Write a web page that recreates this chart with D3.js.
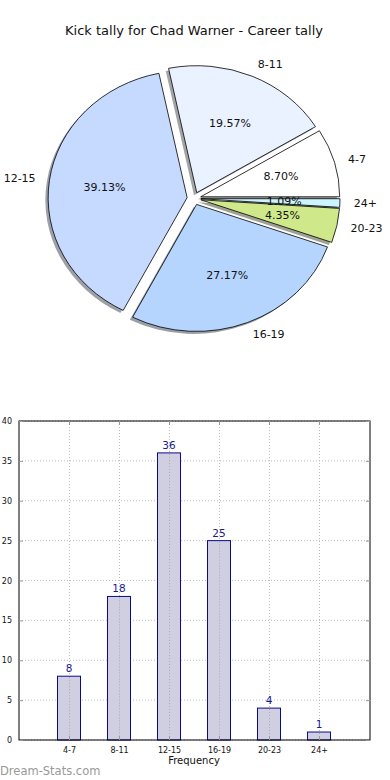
<!DOCTYPE html>
<html><head><meta charset="utf-8">
<script src="https://cdn.jsdelivr.net/npm/d3@7"></script>
<style>body{margin:0;background:#fff}svg{display:block}text{font-family:"DejaVu Sans",sans-serif}</style>
</head><body>
<script>
const title = "Kick tally for Chad Warner - Career tally";
const categories = ["4-7","8-11","12-15","16-19","20-23","24+"];
const counts = [8,18,36,25,4,1];
const sliceColors = ["#ffffff","#eaf2ff","#c6d9ff","#b5d5ff","#cfe98a","#ccf4ff"];
const yTicks = [0,5,10,15,20,25,30,35,40];
const xLabel = "Frequency";
const watermark = "Dream-Stats.com";

const W=390,H=780;
const svg=d3.select("body").append("svg").attr("width",W).attr("height",H);

svg.append("text").attr("x",194).attr("y",35).attr("text-anchor","middle")
  .attr("font-size",13).attr("fill","#111").text(title);

// ---- Pie ----
const cx=194, cy=198.5, rx=139, ry=127, ex=0.05;
const total=d3.sum(counts);
const pie=d3.pie().sort(null).startAngle(Math.PI/2).endAngle(Math.PI/2-2*Math.PI);
const arcs=pie(counts);
const arcGen=d3.arc().innerRadius(0).outerRadius(1);
const pg=svg.append("g");
function darken(c){const r=d3.rgb(c);return d3.rgb(r.r*0.3,r.g*0.3,r.b*0.3).toString();}
arcs.forEach((a,i)=>{
  const m=(a.startAngle+a.endAngle)/2;
  const dx=ex*rx*Math.sin(m), dy=-ex*ry*Math.cos(m);
  pg.append("path").attr("d",arcGen(a))
    .attr("transform",`translate(${cx+dx-0.02*rx},${cy+dy+0.02*ry}) scale(${rx},${ry})`)
    .attr("fill",darken(sliceColors[i])).attr("fill-opacity",0.5).attr("stroke","none");
});
arcs.forEach((a,i)=>{
  const m=(a.startAngle+a.endAngle)/2;
  const dx=ex*rx*Math.sin(m), dy=-ex*ry*Math.cos(m);
  pg.append("path").attr("d",arcGen(a))
    .attr("transform",`translate(${cx+dx},${cy+dy}) scale(${rx},${ry})`)
    .attr("fill",sliceColors[i]).attr("stroke","#000").attr("stroke-width",0.8)
    .attr("vector-effect","non-scaling-stroke").attr("stroke-linejoin","round");
});
arcs.forEach((a,i)=>{
  const m=(a.startAngle+a.endAngle)/2;
  const s=Math.sin(m), c=Math.cos(m);
  const lx=cx+rx*(ex+1.1)*s, ly=cy-ry*(ex+1.1)*c;
  pg.append("text").attr("x",lx).attr("y",ly).attr("dy","0.35em")
    .attr("text-anchor",s>=0?"start":"end").attr("font-size",11).attr("fill","#111")
    .text(categories[i]);
  const px=cx+rx*(ex+0.6)*s, py=cy-ry*(ex+0.6)*c;
  pg.append("text").attr("x",px).attr("y",py).attr("dy","0.35em")
    .attr("text-anchor","middle").attr("font-size",11).attr("fill","#111")
    .text((counts[i]/total*100).toFixed(2)+"%");
});

// ---- Bar chart ----
const L=19,R=370,T=421,B=740;
const x=d3.scaleLinear().domain([-1,6.02]).range([L,R]);
const y=d3.scaleLinear().domain([0,40]).range([B,T]);
const bg=svg.append("g");
bg.selectAll(".gy").data(yTicks).join("line")
  .attr("x1",L).attr("x2",R).attr("y1",d=>y(d)).attr("y2",d=>y(d))
  .attr("stroke","#bbb").attr("stroke-width",1).attr("stroke-dasharray","1,2");
bg.selectAll(".gx").data(categories).join("line")
  .attr("x1",(d,i)=>Math.round(x(i))+0.5).attr("x2",(d,i)=>Math.round(x(i))+0.5).attr("y1",T).attr("y2",B)
  .attr("stroke","#bbb").attr("stroke-width",1).attr("stroke-dasharray","1,2");
const bw=23;
bg.selectAll(".bar").data(counts).join("rect")
  .attr("x",(d,i)=>x(i)-bw/2).attr("width",bw)
  .attr("y",d=>y(d)).attr("height",d=>B-y(d))
  .attr("fill","#ccccdf").attr("fill-opacity",0.95).attr("stroke","#0a0a8a").attr("stroke-width",1);
bg.selectAll(".gx2").data(categories).join("line")
  .attr("x1",(d,i)=>Math.round(x(i))+0.5).attr("x2",(d,i)=>Math.round(x(i))+0.5)
  .attr("y1",(d,i)=>y(counts[i])+1).attr("y2",B)
  .attr("stroke","#aaa").attr("stroke-width",1).attr("stroke-dasharray","1,2");
bg.selectAll(".vl").data(counts).join("text")
  .attr("x",(d,i)=>x(i)).attr("y",d=>y(d)-4).attr("text-anchor","middle")
  .attr("font-size",10.5).attr("fill","#1a1a8c").text(d=>d);
bg.append("rect").attr("x",L).attr("y",T).attr("width",R-L).attr("height",B-T)
  .attr("fill","none").attr("stroke","#000").attr("stroke-width",1);
const yAxis=d3.axisLeft(y).tickValues(yTicks).tickSize(-4).tickPadding(7);
const ga=bg.append("g").attr("transform",`translate(${L},0)`).call(yAxis);
ga.select(".domain").remove();
ga.selectAll("text").attr("font-size",8).attr("font-family","DejaVu Sans, sans-serif").attr("fill","#111");
ga.selectAll("line").attr("stroke","#999");
const gr=bg.append("g").attr("transform",`translate(${R},0)`).call(d3.axisRight(y).tickValues(yTicks).tickSize(-4).tickFormat(""));
gr.select(".domain").remove(); gr.selectAll("line").attr("stroke","#999");
const xAxis=d3.axisBottom(x).tickValues(d3.range(categories.length)).tickFormat(i=>categories[i]).tickSize(-4).tickPadding(7);
const gb=bg.append("g").attr("transform",`translate(0,${B})`).call(xAxis);
gb.select(".domain").remove();
gb.selectAll("text").attr("font-size",8).attr("font-family","DejaVu Sans, sans-serif").attr("fill","#111");
gb.selectAll("line").attr("stroke","#999");
const gt=bg.append("g").attr("transform",`translate(0,${T})`).call(d3.axisTop(x).tickValues(d3.range(categories.length)).tickSize(-4).tickFormat(""));
gt.select(".domain").remove(); gt.selectAll("line").attr("stroke","#999");
svg.append("text").attr("x",194).attr("y",764).attr("text-anchor","middle")
  .attr("font-size",10).attr("fill","#111").text(xLabel);
svg.append("text").attr("x",0).attr("y",775).attr("font-size",11.5)
  .attr("fill","#999").attr("font-family","DejaVu Sans, sans-serif").text(watermark);
</script>
</body></html>
